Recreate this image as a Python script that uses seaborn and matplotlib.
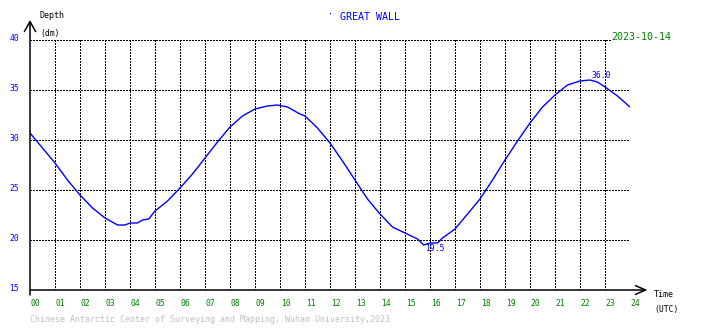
import matplotlib
matplotlib.use("Agg")
import matplotlib.pyplot as plt
import matplotlib.transforms as mtransforms
import numpy as np
import pandas as pd
import seaborn as sns

# Tide gauge record, hours UTC vs depth in decimetres
hours = [0, 0.5, 1, 1.5, 2, 2.5, 3, 3.5, 3.8, 4, 4.3, 4.5, 4.75, 5, 5.5, 6,
         6.5, 7, 7.5, 8, 8.5, 9, 9.5, 9.9, 10.3, 10.8, 11, 11.5, 12, 12.5,
         13, 13.5, 14, 14.5, 15, 15.5, 15.75, 16, 16.3, 16.5, 17, 17.5, 18,
         18.5, 19, 19.5, 20, 20.5, 21, 21.5, 22, 22.4, 22.7, 23, 23.5, 24]
depth = [30.7, 29.2, 27.7, 26.0, 24.5, 23.2, 22.2, 21.5, 21.5, 21.7, 21.7,
         22.0, 22.1, 22.9, 23.9, 25.2, 26.6, 28.2, 29.8, 31.3, 32.4, 33.1,
         33.4, 33.5, 33.3, 32.6, 32.4, 31.2, 29.7, 27.9, 26.0, 24.1, 22.6,
         21.3, 20.7, 20.1, 19.5, 19.7, 19.7, 20.2, 21.1, 22.6, 24.1, 26.0,
         28.0, 29.9, 31.7, 33.3, 34.5, 35.5, 35.9, 36.0, 35.8, 35.3, 34.4,
         33.3]

x_ticks = list(range(0, 25))
x_labels = [f"{h:02d}" for h in x_ticks]
y_ticks = [15, 20, 25, 30, 35, 40]
y_labels = [str(v) for v in y_ticks]

station = "GREAT WALL"
date_str = "2023-10-14"
credit = "Chinese Antarctic Center of Surveying and Mapping, Wuhan University,2023"

df = pd.DataFrame({"hour": hours, "depth": depth})

sns.set_style("white")
plt.rcParams["font.family"] = ["DejaVu Sans Mono"]

W, H = 710, 328
fig = plt.figure(figsize=(W / 100, H / 100), dpi=100)
ax = fig.add_axes([30 / W, 1 - 290 / H, 600 / W, 250 / H])


def fx(px):
    return px / W


def fy(py):
    return 1 - py / H


sns.lineplot(data=df, x="hour", y="depth", ax=ax, color="#0000ff",
             linewidth=1.0, estimator=None, sort=False, zorder=3)

ax.set_xlim(0, 24)
ax.set_ylim(15, 40)
ax.set_xlabel("")
ax.set_ylabel("")
for s in ax.spines.values():
    s.set_visible(False)

# dotted grid, drawn crisp
dot = (0, (1, 1))
for h in x_ticks[1:]:
    ax.axvline(h, color="black", lw=0.75, ls=dot, zorder=1, antialiased=False)
for v in y_ticks[1:]:
    ax.axhline(v, color="black", lw=0.75, ls=dot, zorder=1, antialiased=False)

# tick labels
ax.set_xticks(x_ticks)
ax.set_xticklabels(x_labels, color="#008000", fontsize=5.8)
ax.set_yticks(y_ticks)
ax.set_yticklabels(y_labels, color="#0000ff", fontsize=5.8)
ax.tick_params(axis="x", length=0, pad=6.5)
ax.tick_params(axis="y", length=0, pad=8)
xoff = mtransforms.ScaledTranslation(0.5 / 72, 0, fig.dpi_scale_trans)
for lab in ax.get_xticklabels():
    lab.set_horizontalalignment("left")
    lab.set_transform(lab.get_transform() + xoff)
yoff = mtransforms.ScaledTranslation(0, 1.5 / 72, fig.dpi_scale_trans)
for lab in ax.get_yticklabels():
    lab.set_transform(lab.get_transform() + yoff)

# axes with open arrowheads
ax.annotate("", xy=(0, 1.08), xytext=(0, -0.02), xycoords="axes fraction",
            arrowprops=dict(arrowstyle="->,head_length=0.8,head_width=0.45",
                            color="black", lw=1.1, mutation_scale=9,
                            shrinkA=0, shrinkB=0), annotation_clip=False)
ax.annotate("", xy=(1.029, 0), xytext=(0, 0), xycoords="axes fraction",
            arrowprops=dict(arrowstyle="->,head_length=0.8,head_width=0.35",
                            color="black", lw=1.1, mutation_scale=9,
                            shrinkA=0, shrinkB=0), annotation_clip=False)

# extreme value labels
imax = int(np.argmax(depth))
imin = int(np.argmin(depth))
ax.annotate(f"{depth[imax]:.1f}", xy=(hours[imax], depth[imax]),
            xytext=(8, 3.5), textcoords="offset points", ha="center",
            va="center", color="#0000ff", fontsize=5.8)
ax.annotate(f"{depth[imin]:.1f}", xy=(hours[imin], depth[imin]),
            xytext=(8, -2.5), textcoords="offset points", ha="center",
            va="center", color="#0000ff", fontsize=5.8)

# header, axis names and footer
fig.text(fx(40), fy(15.5), "Depth", fontsize=6, color="black", va="center")
fig.text(fx(40), fy(33.5), "(dm)", fontsize=5.8, color="black", va="center")
fig.text(fx(654), fy(294.5), "Time", fontsize=6, color="black", va="center")
fig.text(fx(654), fy(309.7), "(UTC)", fontsize=5.8, color="black", va="center")
fig.text(fx(330), fy(15.5), "·", fontsize=6, color="#0000ff", ha="center",
         va="center")
fig.text(fx(340), fy(16.7), station, fontsize=7.2, color="#0000ff",
         va="center")
fig.text(fx(611), fy(36.7), date_str, fontsize=7.2, color="#008000",
         va="center", bbox=dict(facecolor="white", edgecolor="none", pad=0.3))
fig.text(fx(30), fy(320), credit, fontsize=6, color="#c0c0c0", va="center")

fig.savefig("out.png", dpi=100, facecolor="white")
